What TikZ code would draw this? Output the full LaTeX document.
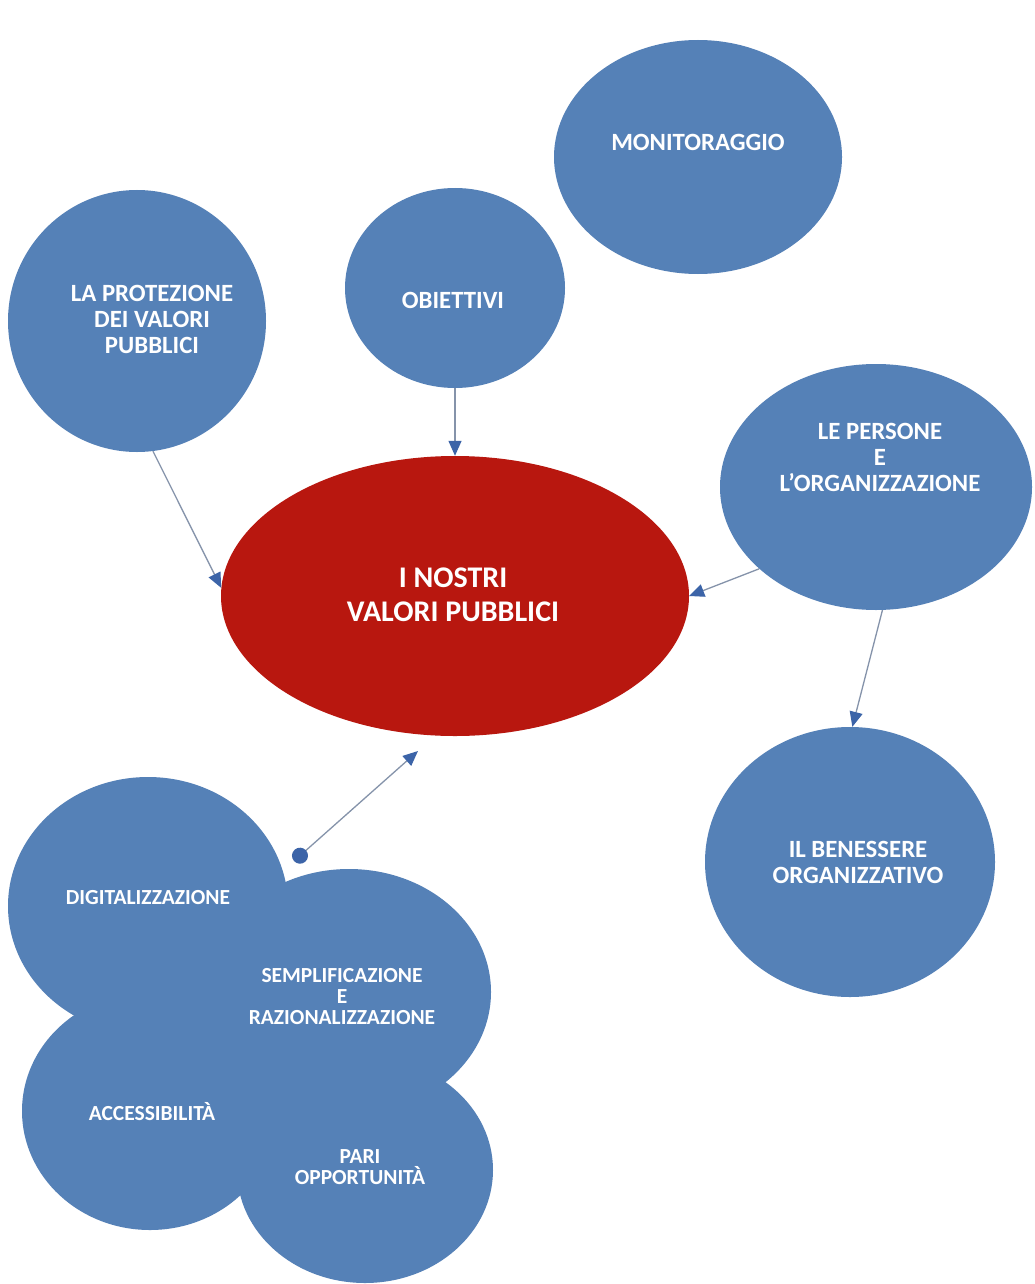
\documentclass[tikz,border=0pt]{standalone}
\usepackage{fontspec}
\setmainfont{Carlito}
\usetikzlibrary{shapes.geometric,arrows.meta}

\definecolor{bubble}{HTML}{5581B7}
\definecolor{core}{HTML}{B8170F}
\definecolor{linkline}{HTML}{8593AA}
\definecolor{linktip}{HTML}{3C64A8}

\tikzset{
  bubble/.style={ellipse, fill=bubble, draw=none, inner sep=0pt},
  core/.style={ellipse, fill=core, draw=none, inner sep=0pt},
  label/.style={text=white, font=\bfseries\fontsize{24.8}{26}\selectfont, align=center, inner sep=0pt},
  corelabel/.style={text=white, font=\bfseries\fontsize{30}{34}\selectfont, align=center, inner sep=0pt},
  smalllabel/.style={text=white, font=\bfseries\fontsize{21.5}{21}\selectfont, align=center, inner sep=0pt},
  link/.style={draw=linkline, line width=1.3pt,
    -{Triangle[length=15pt,width=13pt,fill=linktip,color=linktip]}},
  dotlink/.style={draw=linkline, line width=1.3pt,
    {Circle[length=16pt,fill=linktip,color=linktip]}-{Triangle[length=15pt,width=13pt,fill=linktip,color=linktip]}}
}

\begin{document}
\begin{tikzpicture}[x=1pt,y=-1pt]
  \useasboundingbox[fill=white] (0,0) rectangle (1035,1284);

  % outer bubbles
  \node[bubble, minimum width=288, minimum height=234] (monit) at (698,157) {};
  \node[bubble, minimum width=220, minimum height=200] (obiet) at (455,288) {};
  \node[bubble, minimum width=258, minimum height=262] (prot) at (137,321) {};
  \node[bubble, minimum width=312, minimum height=246] (pers) at (876,487) {};
  \node[bubble, minimum width=290, minimum height=270] (benes) at (850,862) {};

  % central value
  \node[core, minimum width=468, minimum height=280] (core) at (455,596) {};

  % cluster of four overlapping bubbles
  \node[bubble, minimum width=280, minimum height=258] (digi) at (148,906) {};
  \node[bubble, minimum width=284, minimum height=246] (sempl) at (349,992) {};
  \node[bubble, minimum width=256, minimum height=238] (acces) at (150,1111) {};
  \node[bubble, minimum width=256, minimum height=226] (pari) at (365,1170) {};

  % texts
  \node[label] (tmonit) at (698,142) {MONITORAGGIO};
  \node[label] (tobiet) at (453,300) {OBIETTIVI};
  \node[label] (tprot) at (152,319) {LA PROTEZIONE\\DEI VALORI\\PUBBLICI};
  \node[label] (tpers) at (880,457) {LE PERSONE\\E\\L’ORGANIZZAZIONE};
  \node[label] (tbenes) at (858,862) {IL BENESSERE\\ORGANIZZATIVO};
  \node[corelabel] (tcore) at (453,595) {I NOSTRI\\VALORI PUBBLICI};
  \node[smalllabel] (tdigi) at (148,898) {DIGITALIZZAZIONE};
  \node[smalllabel] (tsempl) at (342,997) {SEMPLIFICAZIONE\\E\\RAZIONALIZZAZIONE};
  \node[smalllabel] (tacces) at (152,1112) {ACCESSIBILITÀ};
  \node[smalllabel] (tpari) at (360,1167) {PARI\\OPPORTUNITÀ};

  % connectors
  \draw[link] (prot.-83) -- (core.178);
  \draw[link] (obiet.south) -- (core.north);
  \draw[link] (pers.215) -- (core.east);
  \draw[link] (pers.-87) -- (benes.89);
  \coordinate (clusterdot) at (294,861);
  \coordinate (coreside) at (418,751);
  \draw[dotlink] (clusterdot) -- (coreside);
\end{tikzpicture}
\end{document}
